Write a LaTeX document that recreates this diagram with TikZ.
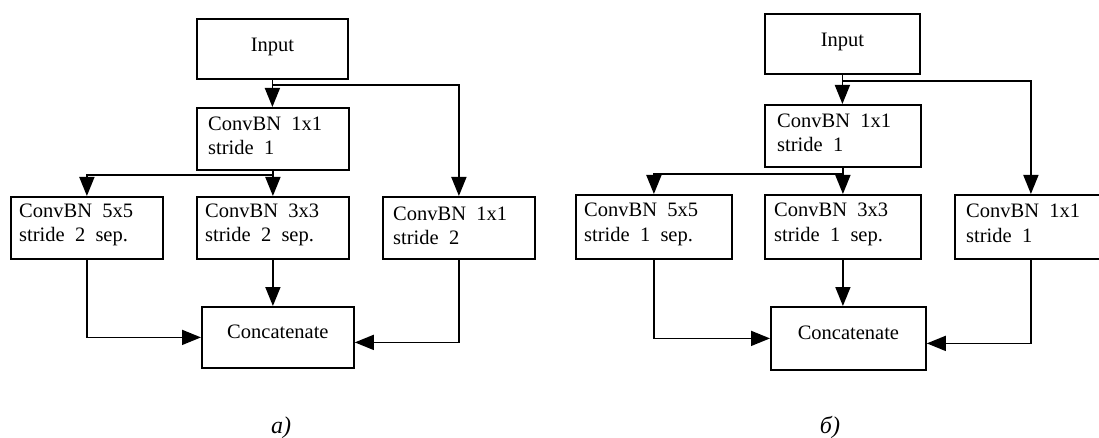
\documentclass[tikz,border=0pt]{standalone}
\usepackage{fontspec}
\setmainfont{Liberation Serif}
\usetikzlibrary{arrows.meta,calc}
\begin{document}
\begin{tikzpicture}[x=1pt,y=-1pt,
  box/.style={draw, line width=1.8pt, inner sep=0pt, anchor=north west},
  cbox/.style={box, font=\fontsize{20.5}{24}\selectfont, text height=13.5pt, text depth=7.5pt},
  txt/.style={anchor=base west, inner sep=0pt, font=\fontsize{20.5}{24}\selectfont},
  arr/.style={line width=1.6pt, -{Triangle[length=19pt,width=15pt]}},
  lab/.style={anchor=base, inner sep=0pt, font=\itshape\fontsize{24}{28}\selectfont}]
\useasboundingbox (0,0) rectangle (1099,438);
\clip (0,0) rectangle (1099,438);
\fill[white] (0,0) rectangle (1099,438);

% ---------- left diagram (a) ----------
\node[cbox, minimum width=151pt, minimum height=60pt] (in1) at (196,18) {Input};
\node[box, minimum width=152pt, minimum height=62pt] (c1) at (196,107) {};
\node[txt] (c1a) at ($(c1.north west)+(12,24)$) {ConvBN\enspace 1x1};
\node[txt] (c1b) at ($(c1.north west)+(12,48)$) {stride\enspace 1};

\node[box, minimum width=152pt, minimum height=62pt] (l1) at (10,196) {};
\node[txt] (l1a) at ($(l1.north west)+(9,22)$) {ConvBN\enspace 5x5};
\node[txt] (l1b) at ($(l1.north west)+(9,45)$) {stride\enspace 2\enspace sep.};

\node[box, minimum width=152pt, minimum height=62pt] (m1) at (196,196) {};
\node[txt] (m1a) at ($(m1.north west)+(9,22)$) {ConvBN\enspace 3x3};
\node[txt] (m1b) at ($(m1.north west)+(9,45)$) {stride\enspace 2\enspace sep.};

\node[box, minimum width=152pt, minimum height=62pt] (r1) at (382,196) {};
\node[txt] (r1a) at ($(r1.north west)+(11,25)$) {ConvBN\enspace 1x1};
\node[txt] (r1b) at ($(r1.north west)+(11,48)$) {stride\enspace 2};

\node[cbox, minimum width=152pt, minimum height=61pt, text depth=10.5pt] (cat1) at (201,306) {Concatenate};

\draw[arr] (in1.south) -- (in1.south |- c1.north);
\draw[arr] ($(in1.south)+(0,5)$) -| (r1.north);
\draw[arr] (c1.south) -- (c1.south |- m1.north);
\draw[arr] ($(c1.south)+(0,4)$) -| (l1.north);
\draw[arr] (m1.south) -- (m1.south |- cat1.north);
\draw[arr] (l1.south) |- (cat1.west);
\draw[arr] (r1.south) |- ($(cat1.east)+(0,5)$);

\node[lab] (la) at (281,433) {а)};

% ---------- right diagram (b) ----------
\node[cbox, minimum width=155pt, minimum height=60pt] (in2) at (764,13) {Input};
\node[box, minimum width=156pt, minimum height=62pt] (c2) at (764,104) {};
\node[txt] (c2a) at ($(c2.north west)+(13,24)$) {ConvBN\enspace 1x1};
\node[txt] (c2b) at ($(c2.north west)+(13,48)$) {stride\enspace 1};

\node[box, minimum width=156pt, minimum height=64pt] (l2) at (575,194) {};
\node[txt] (l2a) at ($(l2.north west)+(9,23)$) {ConvBN\enspace 5x5};
\node[txt] (l2b) at ($(l2.north west)+(9,47)$) {stride\enspace 1\enspace sep.};

\node[box, minimum width=156pt, minimum height=64pt] (m2) at (764,194) {};
\node[txt] (m2a) at ($(m2.north west)+(10,23)$) {ConvBN\enspace 3x3};
\node[txt] (m2b) at ($(m2.north west)+(10,47)$) {stride\enspace 1\enspace sep.};

\node[box, minimum width=156pt, minimum height=64pt] (r2) at (954,194) {};
\node[txt] (r2a) at ($(r2.north west)+(12,24)$) {ConvBN\enspace 1x1};
\node[txt] (r2b) at ($(r2.north west)+(12,48)$) {stride\enspace 1};

\node[cbox, minimum width=155pt, minimum height=63pt, text depth=10.5pt] (cat2) at (770,306) {Concatenate};

\draw[arr] (in2.south) -- (in2.south |- c2.north);
\draw[arr] ($(in2.south)+(0,6)$) -| ([xshift=-2pt]r2.north);
\draw[arr] (c2.south) -- (c2.south |- m2.north);
\draw[arr] ($(c2.south)+(0,6)$) -| (l2.north);
\draw[arr] (m2.south) -- (m2.south |- cat2.north);
\draw[arr] (l2.south) |- (cat2.west);
\draw[arr] ([xshift=-2pt]r2.south) |- ($(cat2.east)+(0,5)$);

\node[lab] (lb) at (830,433) {б)};
\end{tikzpicture}
\end{document}
